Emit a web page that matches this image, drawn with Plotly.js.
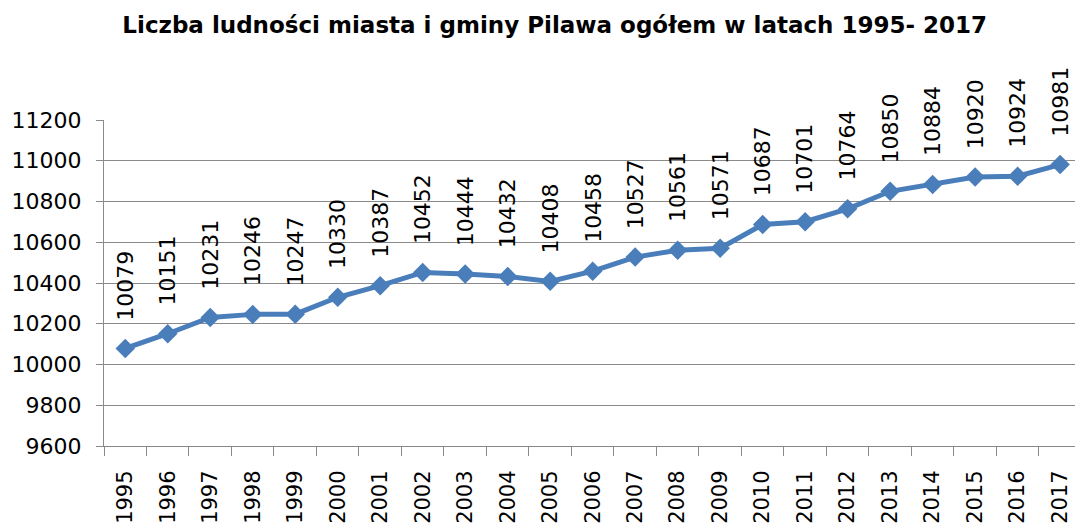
<!DOCTYPE html>
<html>
<head>
<meta charset="utf-8">
<script src="https://cdn.plot.ly/plotly-3.0.1.min.js"></script>
<style>
    html, body { margin: 0; padding: 0; overflow: hidden; background: #fff; }
</style>
</head>
<body>
<div id="chart" style="width:1075px;height:525px;"></div>
<script>
var years = ['1995', '1996', '1997', '1998', '1999', '2000', '2001', '2002', '2003', '2004', '2005', '2006',
    '2007', '2008', '2009', '2010', '2011', '2012', '2013', '2014', '2015', '2016', '2017'];
var population = [10079, 10151, 10231, 10246, 10247, 10330, 10387, 10452, 10444, 10432, 10408, 10458,
    10527, 10561, 10571, 10687, 10701, 10764, 10850, 10884, 10920, 10924, 10981];
var yTicks = [9600, 9800, 10000, 10200, 10400, 10600, 10800, 11000, 11200];

var lineColor = '#4a7ebb';
var gridColor = '#8a8a8a';

window.onload = function() {
    drawChart();
};

function labelFont(size) {
    return {family: 'DejaVu Sans', size: size, color: '#000'};
}

function drawChart() {
    var trace = {
        x: years,
        y: population,
        type: 'scatter',
        mode: 'lines+markers',
        line: {color: lineColor, width: 5},
        marker: {symbol: 'diamond', size: 15, color: lineColor},
        cliponaxis: false,
        hoverinfo: 'x+y'
    };

    // rotated value labels above every point
    var labels = [];
    for (let i = 0; i < years.length; i++) {
        labels.push({
            xref: 'x',
            yref: 'y',
            x: i,
            y: population[i],
            text: String(population[i]),
            showarrow: false,
            textangle: -90,
            xanchor: 'center',
            yanchor: 'bottom',
            yshift: 26,
            font: labelFont(22)
        });
    }

    var layout = {
        width: 1075,
        height: 525,
        margin: {l: 104, r: 0, t: 120, b: 79},
        paper_bgcolor: '#fff',
        plot_bgcolor: '#fff',
        showlegend: false,
        title: {
            text: '<b>Liczba ludności miasta i gminy Pilawa ogółem w latach 1995- 2017</b>',
            font: {family: 'DejaVu Sans', size: 23, color: '#000'},
            x: 0.516,
            xanchor: 'center',
            yref: 'container',
            y: 0.952,
            yanchor: 'middle'
        },
        xaxis: {
            type: 'category',
            range: [-0.5, 22.35],
            tickangle: -90,
            tickson: 'boundaries',
            ticks: 'outside',
            ticklen: 9,
            tickcolor: gridColor,
            showline: true,
            linecolor: gridColor,
            linewidth: 1,
            showgrid: false,
            tickfont: labelFont(21),
            ticklabelstandoff: 15,
            fixedrange: true
        },
        yaxis: {
            range: [9600, 11200],
            tickvals: yTicks,
            ticktext: yTicks.map(String),
            ticks: 'outside',
            ticklen: 7,
            tickcolor: gridColor,
            showline: true,
            linecolor: gridColor,
            linewidth: 1,
            showgrid: true,
            gridcolor: gridColor,
            gridwidth: 1,
            zeroline: false,
            tickfont: labelFont(22),
            ticklabelstandoff: 10,
            fixedrange: true
        },
        annotations: labels
    };

    Plotly.newPlot('chart', [trace], layout, {displayModeBar: false, staticPlot: true});
}
</script>
</body>
</html>
